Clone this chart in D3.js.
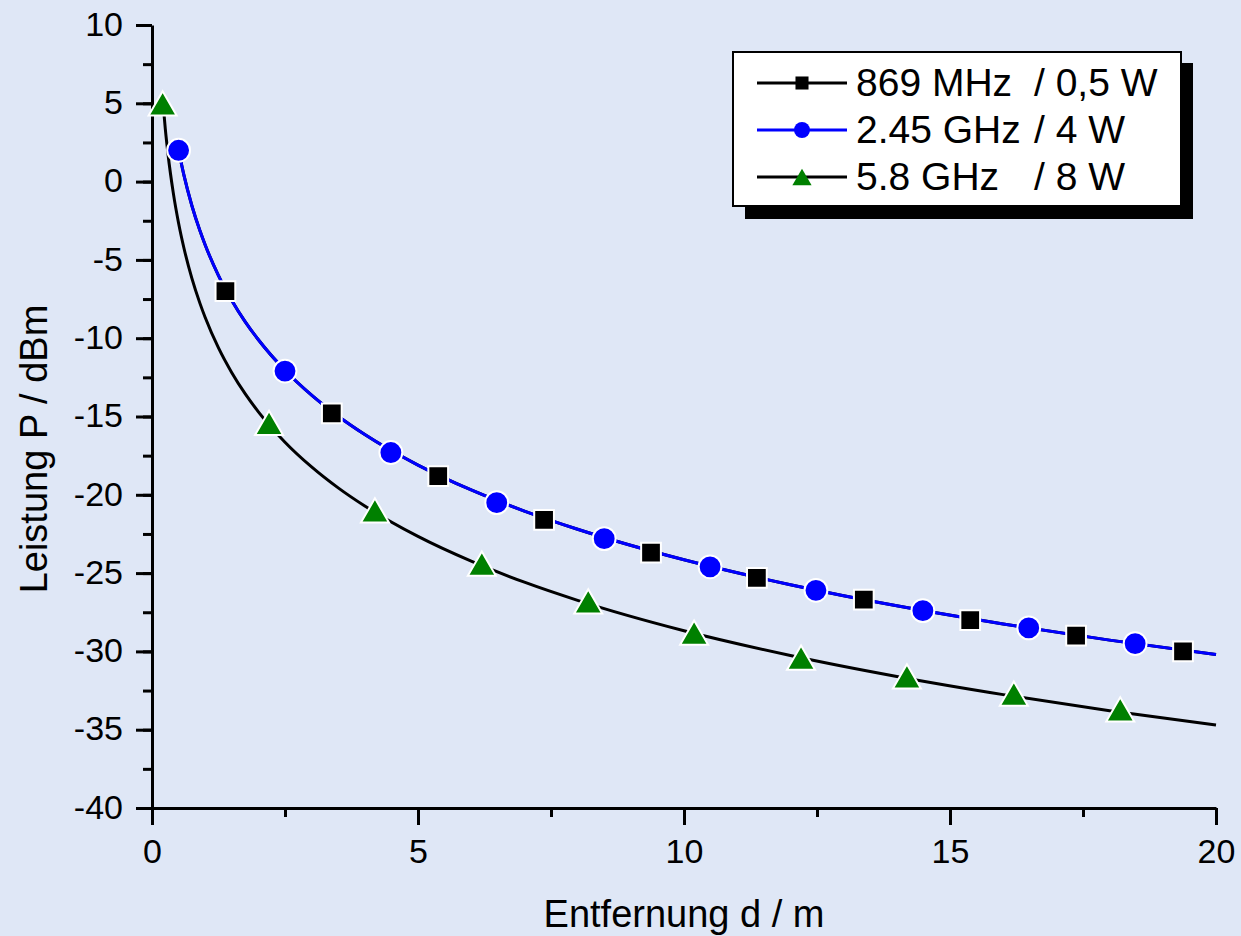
<!DOCTYPE html>
<html><head><meta charset="utf-8">
<script src="https://cdn.jsdelivr.net/npm/d3@7"></script>
<style>
html,body{margin:0;padding:0;background:#dfe7f6;}
svg{display:block;font-family:"Liberation Sans",Arial,sans-serif;}
</style></head>
<body>
<svg id="c" width="1241" height="936"></svg>
<script>
// ---- data ----
const xTicks = [0, 5, 10, 15, 20];
const yTicks = [-40, -35, -30, -25, -20, -15, -10, -5, 0, 5, 10];
const seriesNames = ["869 MHz", "2.45 GHz", "5.8 GHz"];
const seriesPower = ["/ 0,5 W", "/ 4 W", "/ 8 W"];

// markers (measured points)
const sqX = [1.38, 3.38, 5.38, 7.37, 9.38, 11.37, 13.38, 15.38, 17.37, 19.38];
const sqY = [-7.0, -14.8, -18.8, -21.6, -23.7, -25.3, -26.7, -28.0, -29.0, -30.0];
const ciX = [0.5, 2.5, 4.49, 6.48, 8.5, 10.49, 12.48, 14.49, 16.48, 18.48];
const ciY = [2.0, -12.1, -17.3, -20.5, -22.8, -24.6, -26.1, -27.4, -28.5, -29.5];
const trX = [0.2, 2.2, 4.19, 6.2, 8.2, 10.19, 12.2, 14.19, 16.2, 18.2];
const trY = [5.0, -15.4, -21.0, -24.4, -26.8, -28.8, -30.4, -31.6, -32.7, -33.7];

// fitted curves
const fitBlueX = [0.5, 0.6, 0.75, 0.9, 1, 1.25, 1.5, 1.75, 2, 2.5, 3, 3.5, 4, 5, 6, 7, 8, 10, 12, 14, 16, 18, 20];
const fitBlueY = [2.0, 0.41, -1.54, -3.13, -4.05, -6.0, -7.59, -8.94, -10.1, -12.05, -13.64, -14.98, -16.15, -18.1, -19.69, -21.04, -22.2, -24.15, -25.74, -27.09, -28.25, -29.28, -30.2];
const fitBlackX = [0.2, 0.25, 0.3, 0.4, 0.5, 0.6, 0.75, 0.9, 1, 1.25, 1.5, 1.75, 2, 2.5, 3, 3.5, 4, 5, 6, 7, 8, 10, 12, 14, 16, 18, 20];
const fitBlackY = [5.3, 3.36, 1.78, -0.72, -2.66, -4.24, -6.18, -7.76, -8.68, -10.62, -12.2, -13.54, -14.7, -16.64, -18.22, -19.56, -20.72, -22.66, -24.24, -25.58, -26.74, -28.68, -30.26, -31.6, -32.76, -33.79, -34.7];

// ---- drawing ----
const svg = d3.select("#c");
const x = d3.scaleLinear().domain([0, 20]).range([152, 1216]);
const y = d3.scaleLinear().domain([-40, 10]).range([808, 25]);

const zip = (a, b) => a.map((v, i) => [v, b[i]]);
const line = d3.line().x(d => x(d[0])).y(d => y(d[1])).curve(d3.curveMonotoneX);
const fmt = d => String(d);

// axes
const xMinor = d3.range(0, 20.01, 2.5);
const yMinor = d3.range(-40, 10.01, 2.5);
const gx = svg.append("g").attr("transform", "translate(0,808)");
gx.call(d3.axisBottom(x).tickValues(xMinor).tickSize(9).tickFormat(""));
gx.call(g => g.select(".domain").remove());
const gx2 = svg.append("g").attr("transform", "translate(0,808)");
gx2.call(d3.axisBottom(x).tickValues(xTicks).tickSize(17).tickPadding(14).tickSizeOuter(0).tickFormat(fmt));
const gy = svg.append("g").attr("transform", "translate(152,0)");
gy.call(d3.axisLeft(y).tickValues(yMinor).tickSize(9).tickFormat(""));
gy.call(g => g.select(".domain").remove());
const gy2 = svg.append("g").attr("transform", "translate(152,0)");
gy2.call(d3.axisLeft(y).tickValues(yTicks).tickSize(16).tickPadding(13).tickSizeOuter(0).tickFormat(fmt));
svg.selectAll(".tick line, .domain").attr("stroke", "#000").attr("stroke-width", 3);
svg.selectAll(".tick text").attr("font-size", 34).attr("fill", "#000")
  .attr("font-family", "'Liberation Sans',Arial,sans-serif");
gy2.selectAll(".tick text").attr("dy", "0.3em");
gx2.selectAll(".tick text").attr("dy", "0.71em");

// axis titles
svg.append("text").attr("x", 684).attr("y", 927).attr("text-anchor", "middle")
  .attr("font-size", 38).text("Entfernung d / m");
svg.append("text").attr("transform", "translate(47,449) rotate(-90)").attr("text-anchor", "middle")
  .attr("font-size", 38).text("Leistung P / dBm");

// lines
svg.append("path").datum(zip(fitBlueX, fitBlueY)).attr("d", line)
  .attr("fill", "none").attr("stroke", "#000").attr("stroke-width", 3);
svg.append("path").datum(zip(fitBlueX, fitBlueY)).attr("d", line)
  .attr("fill", "none").attr("stroke", "#0000ff").attr("stroke-width", 3);
svg.append("path").datum(zip(fitBlackX, fitBlackY)).attr("d", line)
  .attr("fill", "none").attr("stroke", "#000").attr("stroke-width", 3);

// markers
const triBox = {
  draw(ctx, size) {
    const s = Math.sqrt(size * 4 / Math.sqrt(3));
    const h = s * Math.sqrt(3) / 2;
    ctx.moveTo(0, -h / 2);
    ctx.lineTo(s / 2, h / 2);
    ctx.lineTo(-s / 2, h / 2);
    ctx.closePath();
  }
};
const sym = (type, size) => d3.symbol().type(type).size(size)();
svg.append("g").selectAll("path").data(zip(sqX, sqY)).join("path")
  .attr("d", sym(d3.symbolSquare, 390))
  .attr("transform", d => `translate(${x(d[0])},${y(d[1])})`)
  .attr("fill", "#000").attr("stroke", "#fff").attr("stroke-width", 2);
svg.append("g").selectAll("path").data(zip(ciX, ciY)).join("path")
  .attr("d", sym(d3.symbolCircle, 410))
  .attr("transform", d => `translate(${x(d[0])},${y(d[1])})`)
  .attr("fill", "#0000ff").attr("stroke", "#fff").attr("stroke-width", 2);
svg.append("g").selectAll("path").data(zip(trX, trY)).join("path")
  .attr("d", sym(triBox, 340))
  .attr("transform", d => `translate(${x(d[0])},${y(d[1])})`)
  .attr("fill", "#008000").attr("stroke", "#fff").attr("stroke-width", 2);

// legend
const lg = svg.append("g");
lg.append("rect").attr("x", 745).attr("y", 63).attr("width", 448).attr("height", 156).attr("fill", "#000");
lg.append("rect").attr("x", 733).attr("y", 52).attr("width", 448).attr("height", 154)
  .attr("fill", "#fff").attr("stroke", "#000").attr("stroke-width", 2);
const rowsY = [83, 130, 177];
const lColors = ["#000", "#0000ff", "#000"];
const mColors = ["#000", "#0000ff", "#008000"];
const mTypes = [d3.symbolSquare, d3.symbolCircle, triBox];
const mSizes = [170, 200, 160];
seriesNames.forEach((n, i) => {
  lg.append("line").attr("x1", 757).attr("x2", 847).attr("y1", rowsY[i]).attr("y2", rowsY[i])
    .attr("stroke", lColors[i]).attr("stroke-width", 3);
  lg.append("path").attr("d", sym(mTypes[i], mSizes[i]))
    .attr("transform", `translate(802,${rowsY[i]})`).attr("fill", mColors[i]);
  lg.append("text").attr("x", 856).attr("y", rowsY[i] + 13).attr("font-size", 39).text(n);
  lg.append("text").attr("x", 1034).attr("y", rowsY[i] + 13).attr("font-size", 39).text(seriesPower[i]);
});
</script>
</body></html>
